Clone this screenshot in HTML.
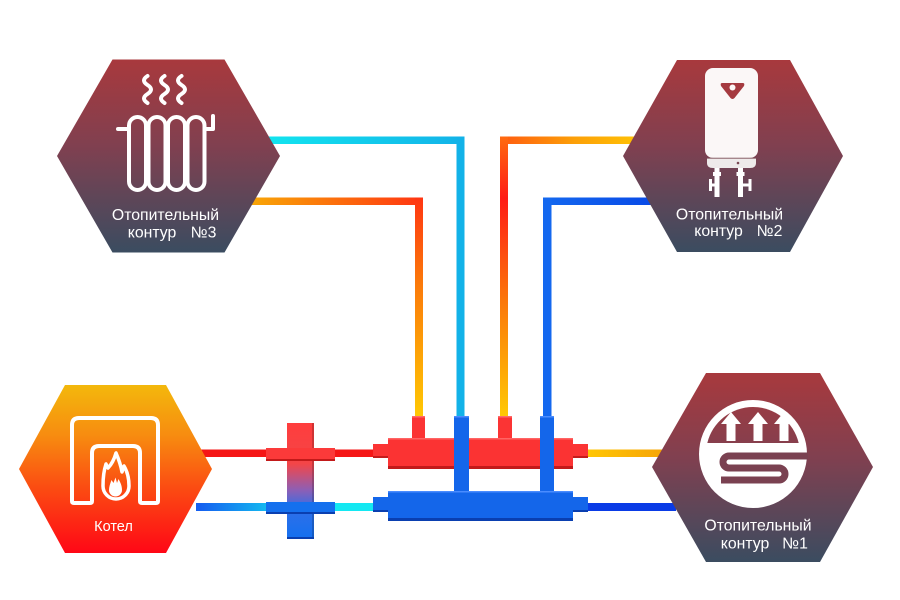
<!DOCTYPE html>
<html><head><meta charset="utf-8">
<style>html,body{margin:0;padding:0;background:#fff}svg{display:block}
text{font-family:"Liberation Sans","DejaVu Sans",sans-serif;fill:#fff}</style></head>
<body>
<svg width="900" height="600" viewBox="0 0 900 600" xmlns="http://www.w3.org/2000/svg">
<defs>
 <linearGradient id="hg3" gradientUnits="userSpaceOnUse" x1="0" y1="60" x2="0" y2="252">
  <stop offset="0" stop-color="#a8393d"/><stop offset="0.45" stop-color="#804050"/><stop offset="1" stop-color="#3b4c60"/>
 </linearGradient>
 <linearGradient id="hg2" gradientUnits="userSpaceOnUse" x1="0" y1="60" x2="0" y2="252">
  <stop offset="0" stop-color="#a8393d"/><stop offset="0.45" stop-color="#804050"/><stop offset="1" stop-color="#3b4c60"/>
 </linearGradient>
 <linearGradient id="hg1" gradientUnits="userSpaceOnUse" x1="0" y1="373" x2="0" y2="562">
  <stop offset="0" stop-color="#a8393d"/><stop offset="0.45" stop-color="#804050"/><stop offset="1" stop-color="#3b4c60"/>
 </linearGradient>
 <linearGradient id="kg" gradientUnits="userSpaceOnUse" x1="0" y1="385" x2="0" y2="553">
  <stop offset="0" stop-color="#f3b80c"/><stop offset="0.3" stop-color="#f78c10"/><stop offset="0.6" stop-color="#fb4e12"/><stop offset="1" stop-color="#ff0716"/>
 </linearGradient>
 <linearGradient id="cyanH" gradientUnits="userSpaceOnUse" x1="260" y1="0" x2="464" y2="0">
  <stop offset="0" stop-color="#12e6ef"/><stop offset="1" stop-color="#12b2e8"/></linearGradient>
 <linearGradient id="orH3" gradientUnits="userSpaceOnUse" x1="245" y1="0" x2="423" y2="0">
  <stop offset="0" stop-color="#f8aa06"/><stop offset="1" stop-color="#ff3512"/></linearGradient>
 <linearGradient id="orV3" gradientUnits="userSpaceOnUse" x1="0" y1="197" x2="0" y2="416">
  <stop offset="0" stop-color="#ff3512"/><stop offset="0.4" stop-color="#fb7a0a"/><stop offset="1" stop-color="#ffc804"/></linearGradient>
 <linearGradient id="orH2" gradientUnits="userSpaceOnUse" x1="500" y1="0" x2="650" y2="0">
  <stop offset="0" stop-color="#ff5a10"/><stop offset="0.5" stop-color="#fca008"/><stop offset="1" stop-color="#ffc804"/></linearGradient>
 <linearGradient id="orV2" gradientUnits="userSpaceOnUse" x1="0" y1="137" x2="0" y2="416">
  <stop offset="0" stop-color="#ff6a10"/><stop offset="0.22" stop-color="#ff1c16"/><stop offset="0.6" stop-color="#fb7a0a"/><stop offset="1" stop-color="#ffc804"/></linearGradient>
 <linearGradient id="blH2" gradientUnits="userSpaceOnUse" x1="543" y1="0" x2="660" y2="0">
  <stop offset="0" stop-color="#1468ef"/><stop offset="1" stop-color="#0848e6"/></linearGradient>
 <linearGradient id="yelR" gradientUnits="userSpaceOnUse" x1="588" y1="0" x2="665" y2="0">
  <stop offset="0" stop-color="#ffc604"/><stop offset="1" stop-color="#f6a406"/></linearGradient>
 <linearGradient id="blL" gradientUnits="userSpaceOnUse" x1="200" y1="0" x2="266" y2="0">
  <stop offset="0" stop-color="#1560f0"/><stop offset="1" stop-color="#14b8f0"/></linearGradient>
 <linearGradient id="crossg" gradientUnits="userSpaceOnUse" x1="0" y1="423" x2="0" y2="539">
  <stop offset="0" stop-color="#ff3d3d"/><stop offset="0.35" stop-color="#f44547"/><stop offset="0.58" stop-color="#8c5fb6"/><stop offset="0.74" stop-color="#2f6fe8"/><stop offset="1" stop-color="#1470f0"/></linearGradient>
</defs>

<!-- PIPES (top) -->
<rect x="258" y="136.5" width="206" height="7.5" fill="url(#cyanH)"/>
<rect x="456.5" y="136.5" width="8" height="280" fill="#12b2e8"/>
<rect x="243" y="197.5" width="180" height="7.5" fill="url(#orH3)"/>
<rect x="415" y="197.5" width="8" height="219" fill="url(#orV3)"/>
<rect x="500" y="136.5" width="150" height="7.5" fill="url(#orH2)"/>
<rect x="500" y="136.5" width="8" height="280" fill="url(#orV2)"/>
<rect x="543" y="197.5" width="120" height="7.5" fill="url(#blH2)"/>
<rect x="543" y="197.5" width="8.5" height="219" fill="#1468ef"/>

<!-- PIPES (bottom) -->
<rect x="198" y="449.5" width="177" height="7.5" fill="#f51616"/>
<rect x="196" y="503" width="74" height="8" fill="url(#blL)"/>
<rect x="330" y="503" width="45" height="8" fill="#14e8f2"/>
<rect x="586" y="449.5" width="80" height="7.5" fill="url(#yelR)"/>
<rect x="586" y="503" width="90" height="8" fill="#0a3be6"/>

<!-- HEXAGONS -->
<polygon points="57,156 112.5,59.5 224.5,59.5 280,156 224.5,252.5 112.5,252.5" fill="url(#hg3)"/>
<polygon points="623,156 677,60 790,60 843,156 790,252 677,252" fill="url(#hg2)"/>
<polygon points="652,467 706,373 820,373 873,467 820,562 706,562" fill="url(#hg1)"/>
<polygon points="19,469 65,385 166,385 212,469 166,553 65,553" fill="url(#kg)"/>

<!-- Radiator icon -->
<g fill="none" stroke="#fff" stroke-width="4" stroke-linecap="round" stroke-linejoin="round">
 <path d="M147.5,76 q-7,4.5 0,9 t0,9 t0,9"/>
 <path d="M164.5,76 q-7,4.5 0,9 t0,9 t0,9"/>
 <path d="M181.5,76 q-7,4.5 0,9 t0,9 t0,9"/>
 <rect x="129" y="117" width="17" height="73" rx="8.5"/>
 <rect x="148.5" y="117" width="17" height="73" rx="8.5"/>
 <rect x="168" y="117" width="17" height="73" rx="8.5"/>
 <rect x="187.5" y="117" width="17" height="73" rx="8.5"/>
 <path d="M118,129 H129"/>
 <path d="M204.5,129 H213 V116"/>
</g>

<!-- Water heater icon -->
<g>
 <rect x="705" y="68" width="53" height="90" rx="8" fill="#fbf7f7"/>
 <path d="M722,83 H743 Q745,83 744,86 L734.5,98 Q732.5,100 730.5,98 L721,86 Q720,83 722,83 Z" fill="#a53a40"/>
 <circle cx="732.5" cy="87.5" r="3" fill="#fbf7f7"/>
 <path d="M707,158.5 H756 V163 Q756,168 750,168 H713 Q707,168 707,163 Z" fill="#eeeaea"/>
 <line x1="707" y1="158.2" x2="756" y2="158.2" stroke="#7a4a55" stroke-width="0.8"/>
 <circle cx="738" cy="163" r="1.3" fill="#7a4a55"/>
 <rect x="714.5" y="168" width="5" height="29" fill="#fff"/>
 <rect x="738" y="168" width="5" height="29" fill="#fff"/>
 <rect x="713" y="172" width="8" height="4" fill="#fff"/>
 <rect x="736.5" y="172" width="8" height="4" fill="#fff"/>
 <rect x="709" y="179" width="3" height="12" fill="#fff"/>
 <rect x="709" y="183.5" width="8" height="3" fill="#fff"/>
 <rect x="748.5" y="179" width="3" height="12" fill="#fff"/>
 <rect x="741" y="183.5" width="9" height="3" fill="#fff"/>
</g>

<!-- Floor heating icon -->
<g>
 <circle cx="753" cy="454" r="54" fill="#fff"/>
 <path d="M707.3,443 A47,47 0 0 1 798.7,443 Z" fill="url(#hg1)"/>
 <path d="M731,412 L741,424 H735.5 V441 H726.5 V424 H721 Z" fill="#fff"/>
 <path d="M758,412 L768,424 H762.5 V441 H753.5 V424 H748 Z" fill="#fff"/>
 <path d="M784,412 L794,424 H788.5 V441 H779.5 V424 H774 Z" fill="#fff"/>
 <path d="M808,456 H729 A6,6 0 0 0 729,468 H779 A6,6 0 0 1 779,480 H721" fill="none" stroke="#7a4151" stroke-width="7"/>
</g>

<!-- Boiler icon -->
<g fill="none" stroke="#fff" stroke-width="4" stroke-linejoin="round">
 <path d="M72,501 V425 Q72,418 79,418 H151 Q158,418 158,425 V501 Q158,503 156,503 H142 Q140,503 140,501 V453 Q140,446 133,446 H99 Q92,446 92,453 V501 Q92,503 90,503 H74 Q72,503 72,501 Z"/>
 <path d="M103,486 A13,13 0 0 0 129,486 C129,477 127,471 124,466 L122,472 C121,466 119,460 116,453 C114,460 111,465 108,468 L106,464 C104,470 103,478 103,486 Z" stroke-width="3.5"/>
</g>
<path d="M109,490 A6.5,6.5 0 0 0 122,490 C122,485 120,482 118.5,479 L117,483 L115.5,477.5 L113.5,483 L111.5,480 C110,484 109,487 109,490 Z" fill="#fff"/>

<!-- MANIFOLD red -->
<rect x="412" y="416" width="13" height="23" fill="#fb3434"/>
<rect x="498" y="416" width="14" height="23" fill="#fb3434"/>
<rect x="412" y="416" width="13" height="1.5" fill="#ff6a6a"/>
<rect x="498" y="416" width="14" height="1.5" fill="#ff6a6a"/>
<rect x="373" y="444" width="17" height="14" fill="#fb3434"/>
<rect x="571" y="444" width="17" height="14" fill="#fb3434"/>
<rect x="373" y="456" width="17" height="2" fill="#c41c1c"/>
<rect x="571" y="456" width="17" height="2" fill="#c41c1c"/>
<rect x="388" y="438" width="185" height="31" fill="#fb3333"/>
<rect x="388" y="438" width="185" height="1.5" fill="#ff6464"/>
<rect x="388" y="466" width="185" height="3" fill="#c21a1a"/>

<!-- MANIFOLD blue -->
<rect x="454" y="416" width="15" height="77" fill="#1466ea"/>
<rect x="540" y="416" width="14" height="77" fill="#1466ea"/>
<rect x="454" y="416" width="15" height="1.5" fill="#4a8cff"/>
<rect x="540" y="416" width="14" height="1.5" fill="#4a8cff"/>
<rect x="373" y="497" width="17" height="15" fill="#1466ea"/>
<rect x="571" y="497" width="17" height="15" fill="#1466ea"/>
<rect x="373" y="510" width="17" height="2" fill="#0a3fb0"/>
<rect x="571" y="510" width="17" height="2" fill="#0a3fb0"/>
<rect x="388" y="491" width="185" height="30" fill="#1466ea"/>
<rect x="388" y="491" width="185" height="1.5" fill="#4a8cff"/>
<rect x="388" y="518" width="185" height="3" fill="#0a3fb0"/>

<!-- HYDRAULIC CROSS -->
<rect x="287" y="423" width="27" height="116" fill="url(#crossg)"/>
<rect x="312" y="423" width="2" height="116" fill="#000" opacity="0.18"/>
<rect x="287" y="537" width="27" height="2" fill="#0a3fb0"/>
<rect x="266" y="448" width="69" height="13" fill="#fb3a3a"/>
<rect x="266" y="459" width="69" height="2" fill="#c21a1a"/>
<rect x="266" y="502" width="69" height="12" fill="#1470ee"/>
<rect x="266" y="512" width="69" height="2" fill="#0a3fb0"/>

<!-- TEXT -->
<text x="165.5" y="220" font-size="15.8" text-anchor="middle">Отопительный</text>
<text x="152" y="237.5" font-size="15.8" text-anchor="middle">контур</text>
<text x="203.5" y="237.5" font-size="15.8" text-anchor="middle">№3</text>

<text x="729.5" y="219.5" font-size="15.8" text-anchor="middle">Отопительный</text>
<text x="718.5" y="236" font-size="15.8" text-anchor="middle">контур</text>
<text x="769.5" y="236" font-size="15.8" text-anchor="middle">№2</text>

<text x="758" y="530.5" font-size="15.8" text-anchor="middle">Отопительный</text>
<text x="745" y="548.5" font-size="15.8" text-anchor="middle">контур</text>
<text x="795" y="548.5" font-size="15.8" text-anchor="middle">№1</text>

<text x="113.5" y="531" font-size="14.5" text-anchor="middle">Котел</text>
</svg>
</body></html>
